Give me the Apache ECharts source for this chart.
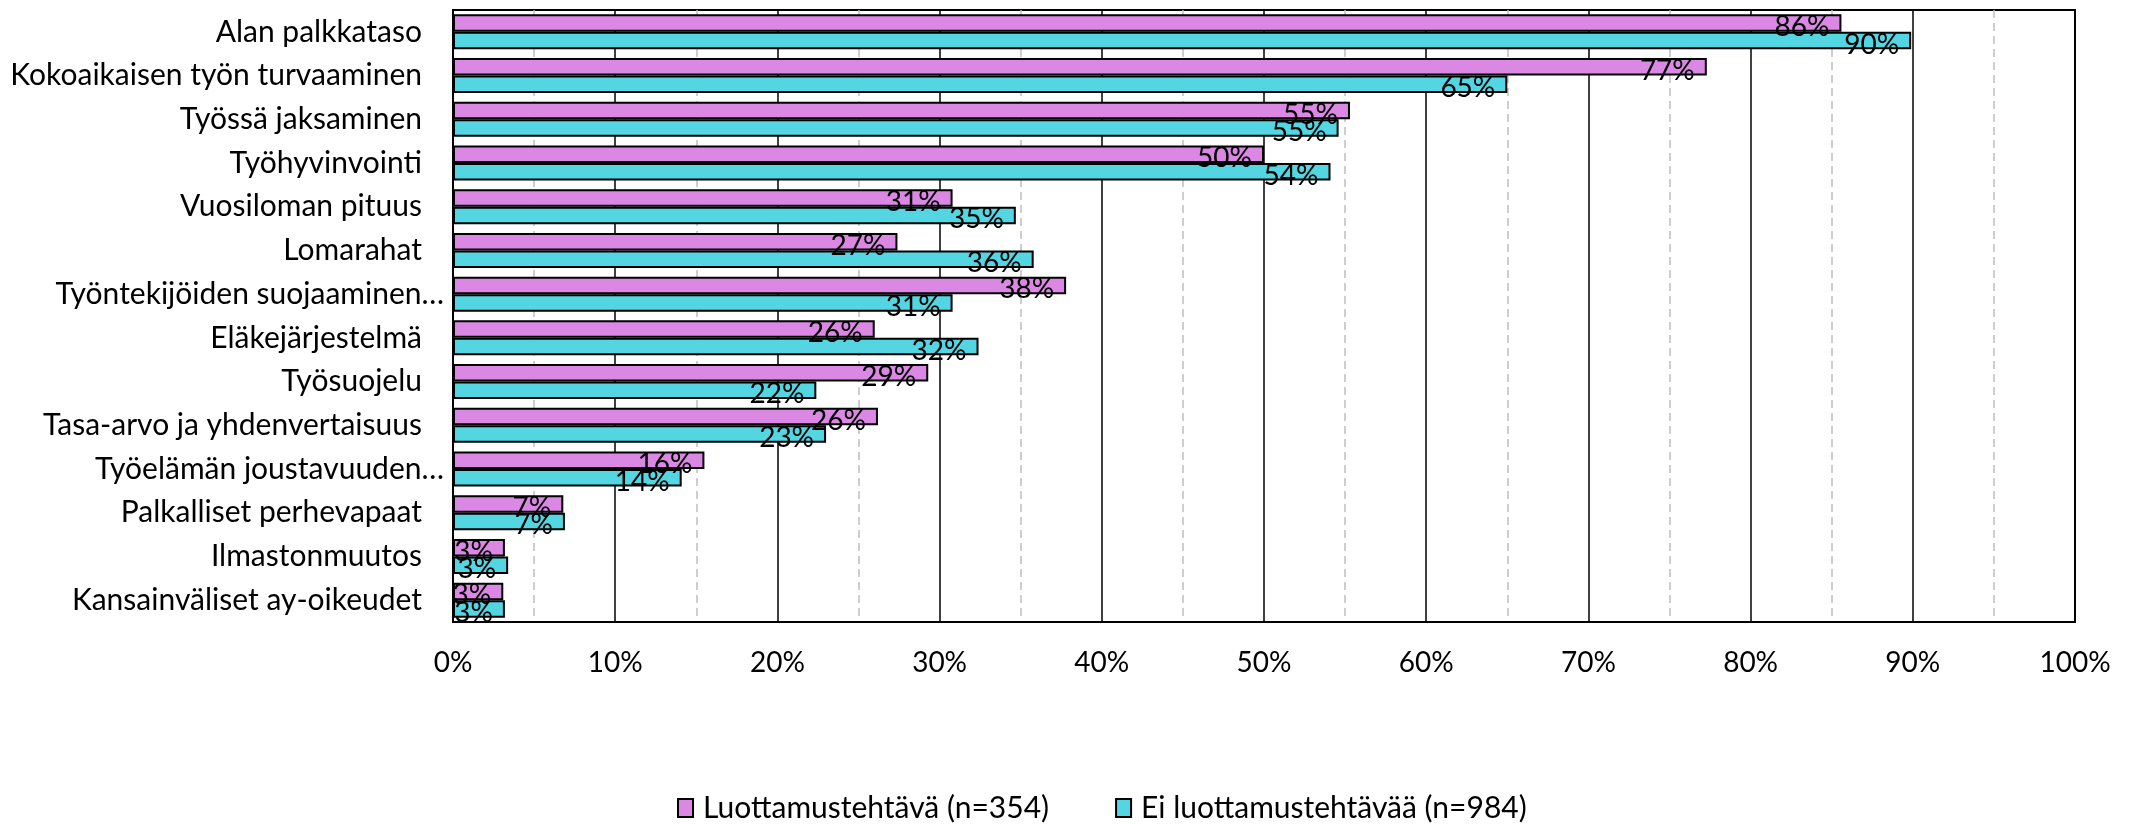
<!DOCTYPE html>
<html>
<head>
<meta charset="utf-8">
<script src="https://cdn.jsdelivr.net/npm/echarts@6/dist/echarts.min.js"></script>
<style>
  html, body { margin: 0; padding: 0; background: #fff; }
  #main { width: 2134px; height: 825px; }
</style>
</head>
<body>
<div id="main"></div>
<script>
const categories = [
    'Alan palkkataso',
    'Kokoaikaisen työn turvaaminen',
    'Työssä jaksaminen',
    'Työhyvinvointi',
    'Vuosiloman pituus',
    'Lomarahat',
    'Työntekijöiden suojaaminen…',
    'Eläkejärjestelmä',
    'Työsuojelu',
    'Tasa-arvo ja yhdenvertaisuus',
    'Työelämän joustavuuden…',
    'Palkalliset perhevapaat',
    'Ilmastonmuutos',
    'Kansainväliset ay-oikeudet'
];

// Luottamustehtävä (n=354), share of respondents
const trusteeValues = [85.6, 77.3, 55.3, 50.0, 30.8, 27.4, 37.8, 26.0, 29.3, 26.2, 15.5, 6.8, 3.2, 3.1];

// Ei luottamustehtävää (n=984)
const otherValues = [89.9, 65.0, 54.6, 54.1, 34.7, 35.8, 30.8, 32.4, 22.4, 23.0, 14.1, 6.9, 3.4, 3.2];

const seriesNames = ['Luottamustehtävä (n=354)', 'Ei luottamustehtävää (n=984)'];

const fontName = 'Lato';

document.addEventListener('DOMContentLoaded', function () {
    drawChart();
});

function drawChart() {

    let myChart = echarts.init(document.getElementById('main'));

    let valueLabel = {
        show: true,
        position: 'insideRight',
        distance: 12,
        offset: [0, 4],
        color: '#000',
        fontFamily: fontName,
        fontSize: 28,
        formatter: function (p) {
            return Math.round(p.value) + '%';
        }
    };

    let option = {
        animation: false,
        textStyle: { fontFamily: fontName },
        grid: {
            left: 453,
            right: 59,
            top: 10,
            bottom: 203,
            show: true,
            borderColor: '#000',
            borderWidth: 2
        },
        legend: {
            left: 672,
            top: 788,
            itemWidth: 15,
            itemHeight: 18,
            itemGap: 66,
            icon: 'rect',
            textStyle: {
                color: '#000',
                fontSize: 30,
                fontFamily: fontName,
                padding: [0, 0, 0, 5]
            },
            data: seriesNames
        },
        xAxis: {
            type: 'value',
            min: 0,
            max: 100,
            interval: 10,
            axisLine: { show: true, lineStyle: { color: '#000', width: 2 } },
            axisTick: { show: false },
            axisLabel: {
                margin: 27,
                color: '#000',
                fontSize: 28,
                fontFamily: fontName,
                formatter: '{value}%'
            },
            splitLine: { show: true, lineStyle: { color: '#000', width: 1.5 } },
            minorTick: { show: false, splitNumber: 2 },
            minorSplitLine: {
                show: true,
                lineStyle: { color: '#bfbfbf', width: 1.5, type: [8, 5] }
            }
        },
        yAxis: {
            type: 'category',
            inverse: true,
            data: categories,
            axisLine: { show: true, lineStyle: { color: '#000', width: 2 } },
            axisTick: { show: false },
            axisLabel: {
                margin: 9,
                color: '#000',
                fontSize: 30,
                fontFamily: fontName,
                formatter: function (value) {
                    // Excel lets the shortened labels run a bit further right
                    if (value.slice(-1) === '…') {
                        return '{e|' + value + '}';
                    }
                    return '{n|' + value + '}';
                },
                rich: {
                    n: { fontSize: 30, fontFamily: fontName, color: '#000', padding: [0, 22, 0, 0] },
                    e: { fontSize: 30, fontFamily: fontName, color: '#000' }
                }
            }
        },
        series: [
            {
                name: seriesNames[0],
                type: 'bar',
                data: trusteeValues,
                barGap: '0%',
                barCategoryGap: '20%',
                itemStyle: { color: '#da88e3', borderColor: '#000', borderWidth: 2 },
                label: valueLabel
            },
            {
                name: seriesNames[1],
                type: 'bar',
                data: otherValues,
                barGap: '0%',
                barCategoryGap: '20%',
                itemStyle: { color: '#53d5e2', borderColor: '#000', borderWidth: 2 },
                label: valueLabel
            }
        ]
    };

    myChart.setOption(option);
}
</script>
</body>
</html>
